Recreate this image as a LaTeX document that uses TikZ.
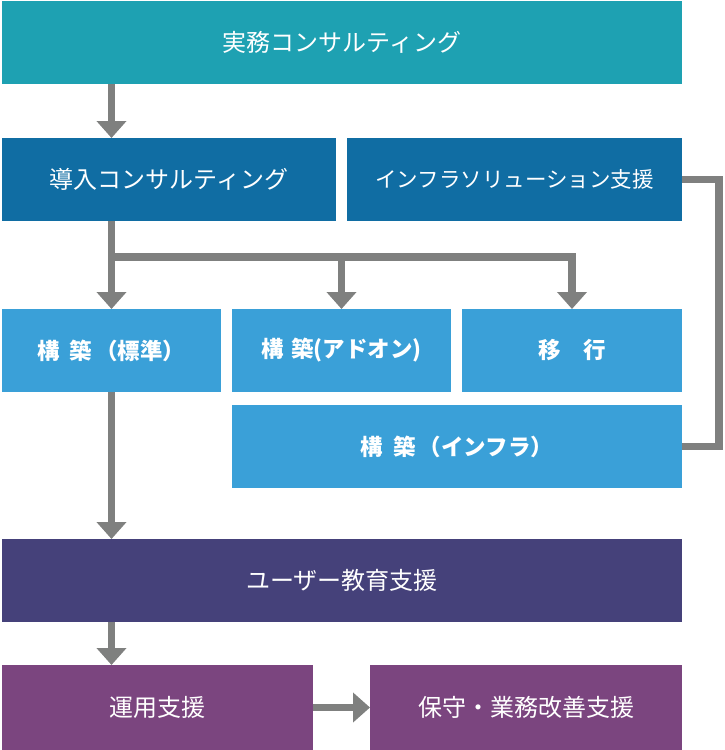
\documentclass[tikz,border=0pt]{standalone}
\usepackage{fontspec}
\newfontfamily\jpfont{Noto Sans CJK JP}
\usepackage{tikz}
\usetikzlibrary{arrows.meta,positioning,calc}
\definecolor{tealbox}{HTML}{1EA1B2}
\definecolor{darkbox}{HTML}{106DA3}
\definecolor{lightbox}{HTML}{3AA0D8}
\definecolor{eduvio}{HTML}{45417A}
\definecolor{opsvio}{HTML}{7B457F}
\definecolor{arrowgray}{HTML}{7F807F}

\begin{document}
\begin{tikzpicture}[x=1pt,y=-1pt,% pixel grid, y runs downwards
			every node/.style={
				align=center,
				inner sep=0pt,
				outer sep=0pt,
				text=white,
				font=\jpfont\fontsize{24}{28}\selectfont
			},
			box/.style={rectangle,minimum height=83pt},
			buildbox/.style={box,fill=lightbox,font=\jpfont\bfseries\fontsize{22.5}{26}\selectfont},
			every edge/.style={draw,line width=7.5pt,arrowgray},
			flow/.style={draw,line width=7.5pt,arrowgray,line join=miter},
			>={Triangle[width=29pt,length=17pt]}
		]
		\useasboundingbox (0,0) rectangle (724,750);
		\node[box,fill=tealbox,minimum width=680pt,anchor=north west](R1) at (2,1){実務コンサルティング};
		\node[box,fill=darkbox,minimum width=334pt](R2)[below right=54pt and 0pt of R1.south west]{導入コンサルティング};
		\node[box,fill=darkbox,minimum width=335pt,font=\jpfont\fontsize{21.5}{26}\selectfont](R3)[right=11pt of R2]{インフラソリューション支援};
		\node[buildbox,minimum width=219pt](R4)[below right=88pt and 0pt of R2.south west]{構\hspace{10pt}築\hspace{3pt}（標準）};
		\node[buildbox,minimum width=219pt](R5)[right=11pt of R4]{構\hspace{8pt}築(アドオン)};
		\node[buildbox,minimum width=220pt](R6)[right=11pt of R5]{移　行};
		\node[buildbox,minimum width=450pt](R7)[below right=13pt and 0pt of R5.south west]{構\hspace{10pt}築\hspace{3pt}（インフラ）};
		\node[box,fill=eduvio,minimum width=680pt](R8)[below right=147pt and 0pt of R4.south west]{ユーザー教育支援};
		\node[box,fill=opsvio,minimum width=311pt,minimum height=85pt](R9)[below right=43pt and 0pt of R8.south west]{運用支援};
		\node[box,fill=opsvio,minimum width=312pt,minimum height=85pt](R10)[right=57pt of R9]{保守・業務改善支援};
		\coordinate (J) at ($(R2.south -| R4)+(0,36)$);
		\path[->]
		(R1.south -| R4) edge [] (R2.north -| R4)
		(R2.south -| R4) edge [] (R4.north)
		(J -| R5) edge [] (R5.north)
		(R4.south) edge [] (R8.north -| R4)
		(R8.south -| R4) edge [] (R9.north -| R4)
		(R9.east) edge [] (R10.west)
		;
		\draw[flow,->] (J) -| (R6.north);
		\draw[flow] (R3.east) -- ++(37,0) |- (R7.east);
	\end{tikzpicture}
\end{document}
